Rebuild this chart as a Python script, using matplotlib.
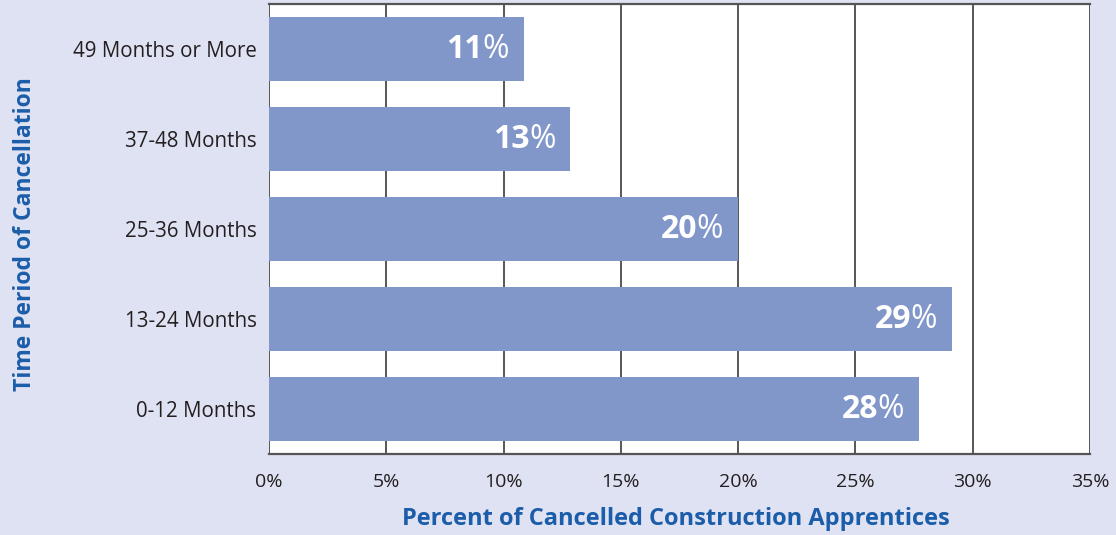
import matplotlib
matplotlib.use("Agg")
import matplotlib.pyplot as plt
from matplotlib.transforms import offset_copy

categories = ["0-12 Months", "13-24 Months", "25-36 Months", "37-48 Months", "49 Months or More"]
values = [27.7, 29.1, 20.0, 12.85, 10.85]
value_labels = ["28", "29", "20", "13", "11"]
xticks = [0, 5, 10, 15, 20, 25, 30, 35]
xtick_labels = [f"{t}%" for t in xticks]

BG = "#dfe2f3"
BAR = "#8196c9"
BLUE = "#1b5da9"
TXT = "#231f20"
FONT = "Open Sans"

fig = plt.figure(figsize=(11.16, 5.35), dpi=100, facecolor=BG)
ax = fig.add_axes([269/1116, 1 - 454/535, (1090-269)/1116, 450/535])
ax.set_facecolor("white")

y = list(range(len(categories)))
ax.barh(y, values, height=0.71, color=BAR, zorder=3)
ax.set_xlim(0, 35)
ax.set_ylim(-0.5, len(categories) - 0.5)
ax.set_xticks(xticks)
ax.set_xticklabels(xtick_labels, fontfamily=FONT, fontsize=14, color=TXT)
ax.set_yticks(y)
ax.set_yticklabels(categories, fontfamily=FONT, fontsize=14.8, color=TXT)
ax.tick_params(axis="both", length=0)
ax.tick_params(axis="x", pad=14)
ax.tick_params(axis="y", pad=9)
ax.grid(axis="x", color="#3a3a3a", linewidth=1.2, zorder=1)
for s in ["left", "right"]:
    ax.spines[s].set_visible(False)
for s in ["top", "bottom"]:
    ax.spines[s].set_color("#555555")
    ax.spines[s].set_linewidth(1.6)

ax.set_xlabel("Percent of Cancelled Construction Apprentices", fontfamily=FONT,
              fontsize=17, fontweight="bold", color=BLUE)
ax.xaxis.set_label_coords(0.496, -0.118)
ax.set_ylabel("Time Period of Cancellation", fontfamily=FONT,
              fontsize=16.5, fontweight="bold", color=BLUE)
ax.yaxis.set_label_coords(-0.282, 0.489)

fig.canvas.draw()
r = fig.canvas.get_renderer()
for yi, v, lab in zip(y, values, value_labels):
    tr = offset_copy(ax.transData, fig=fig, x=-15, y=0, units="dots")
    p = ax.text(v, yi, "%", transform=tr, ha="right", va="center",
                fontfamily=FONT, fontsize=23, color="white", zorder=4)
    w = p.get_window_extent(r).width
    tr2 = offset_copy(ax.transData, fig=fig, x=-15 - w + 1, y=0, units="dots")
    ax.text(v, yi, lab, transform=tr2, ha="right", va="center",
            fontfamily=FONT, fontsize=23, fontweight="bold", color="white", zorder=4)

fig.savefig("out.png", dpi=100, facecolor=BG)
